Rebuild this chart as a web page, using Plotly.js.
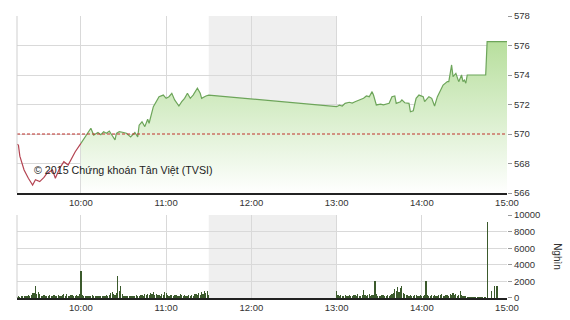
<!DOCTYPE html>
<html>
<head>
<meta charset="utf-8">
<script src="https://cdn.plot.ly/plotly-3.0.1.min.js"></script>
<style>html,body{margin:0;padding:0;background:#fff;}#chart{width:570px;height:320px;}</style>
</head>
<body>
<div id="chart"></div>
<script>
var DAY = '2015-01-01 ';
var refLevel = 570;

// Opening segment (below reference, red)
var redTimes = ['09:15','09:16','09:17','09:20','09:23','09:26','09:28','09:31','09:34','09:36','09:40','09:42','09:45','09:48','09:51','09:53','09:56','10:00'];
var redValues = [569.3,569.25,568.5,567.56,567.0,566.54,566.9,566.77,567.06,567.33,567.56,567.0,567.67,568.12,567.9,568.24,568.8,569.37];

// Rest of session (green)
var greenTimes = ['10:00','10:04','10:06','10:07','10:09','10:12','10:14','10:16','10:18','10:20','10:22','10:24','10:25','10:27','10:30','10:32','10:35','10:38','10:40','10:41','10:43','10:45','10:47','10:48','10:51','10:53','10:55','10:58','11:00','11:02','11:04','11:06','11:09','11:11','11:13','11:15','11:17','11:19','11:22','11:24','11:25','11:28','11:30',
  '13:00','13:02','13:04','13:06','13:09','13:11','13:13','13:16','13:19','13:21','13:23','13:25','13:26','13:28','13:31','13:33','13:37','13:39','13:41','13:42','13:45','13:46','13:48','13:51','13:52','13:54','13:56','13:58','14:01','14:02','14:05','14:07','14:09','14:11','14:13','14:15','14:18','14:19','14:20','14:21','14:22','14:24','14:26','14:28','14:29','14:30','14:31','14:32','14:45','14:46','15:00'];
var greenValues = [569.37,569.93,570.16,570.39,569.93,570.1,569.95,570.15,570.05,570.2,569.9,569.6,570.05,570.16,570.1,570.05,569.8,570.1,569.8,570.6,570.83,570.5,571.0,570.73,571.85,572.19,572.53,572.64,572.42,572.53,572.76,572.31,571.9,572.19,572.42,572.76,572.42,572.64,573.1,572.76,572.42,572.58,572.64,
  571.85,571.95,571.9,572.08,572.15,572.1,572.19,572.31,572.42,572.58,572.53,572.87,572.64,571.97,572.02,571.97,572.08,572.53,572.58,572.08,572.19,572.31,572.12,572.08,571.51,571.58,572.42,572.64,572.53,572.2,572.53,572.42,571.9,572.53,572.98,573.32,573.55,573.55,574.11,574.68,573.89,574.11,573.55,574.0,573.55,573.66,573.44,574.0,574.0,576.26,576.26];

// Volume (thousand shares), one bar per minute
var volMorningStart = '09:15';
var volMorning = [150,200,180,250,200,300,220,260,350,300,
  400,550,600,1400,500,700,450,300,250,350,
  200,300,250,400,300,200,350,300,250,400,
  300,250,350,500,300,450,250,300,400,350,
  300,250,400,300,500,3300,400,250,300,200,
  250,300,200,350,250,300,200,250,300,250,
  200,300,250,400,300,350,600,700,500,400,
  600,2600,800,1500,500,300,250,200,300,250,
  200,250,300,200,350,300,250,400,350,300,
  450,400,500,350,600,450,700,400,500,350,
  400,300,500,350,700,600,400,300,350,400,
  300,400,350,250,300,450,350,300,400,250,
  300,350,250,400,300,450,500,350,600,400,
  700,500,800,600,900,400];
var volAfternoonStart = '13:00';
var volAfternoon = [900,400,300,350,250,300,400,300,250,350,
  300,250,400,350,300,450,300,250,350,1000,
  400,300,350,500,300,400,350,2000,450,300,
  250,300,350,400,300,250,350,300,400,500,
  600,1100,900,1300,700,1200,1400,600,500,400,
  350,300,400,250,300,350,400,300,250,350,
  300,250,400,2000,350,300,250,400,300,350,
  300,250,350,400,500,300,250,350,400,300,
  450,350,600,400,500,300,350,900,400,300,
  250,200,150,100,120,150,100,120,100,150,
  100,120,150,100,120,80];
var volCloseTimes = ['14:46','14:49','14:51','14:53'];
var volClose = [9200,900,1400,1400];

var priceTicks = [566,568,570,572,574,576,578];
var volTicks = [0,2000,4000,6000,8000,10000];
var hourTicks = ['10:00','11:00','12:00','13:00','14:00','15:00'];
var watermark = '© 2015 Chứng khoán Tân Việt (TVSI)';
var volUnit = 'Nghìn';

function ts(t){ return DAY + t; }
function minuteSeries(start, n){
  var p = start.split(':'); var m0 = (+p[0])*60 + (+p[1]); var out = [];
  for (var i=0;i<n;i++){ var m=m0+i; var h=Math.floor(m/60), mm=m%60;
    out.push(DAY + (h<10?'0':'')+h+':'+(mm<10?'0':'')+mm); }
  return out;
}

var volX = minuteSeries(volMorningStart, volMorning.length)
  .concat(minuteSeries(volAfternoonStart, volAfternoon.length))
  .concat(volCloseTimes.map(ts));
var volY = volMorning.concat(volAfternoon).concat(volClose);

var font = "Arial, 'Liberation Sans', sans-serif";

var traces = [
  {x: greenTimes.map(ts), y: greenValues, type:'scatter', mode:'lines', xaxis:'x', yaxis:'y',
   line:{color:'#6da55a', width:1.2}, fill:'tozeroy',
   fillgradient:{type:'vertical', start:566, stop:577.5,
     colorscale:[[0,'rgba(255,255,255,1)'],[0.5,'#d6edc8'],[1,'#b0db92']]},
   hoverinfo:'skip'},
  {x: redTimes.map(ts), y: redValues, type:'scatter', mode:'lines', xaxis:'x', yaxis:'y',
   line:{color:'#b44452', width:1.2}, hoverinfo:'skip'},
  {x: volX, y: volY, type:'bar', xaxis:'x2', yaxis:'y2', width:50000,
   marker:{color:'#3b5a2c', line:{width:0}}, hoverinfo:'skip'}
];

var xCommon = {type:'date', range:[ts('09:15'), ts('15:00')],
  tickvals: hourTicks.map(ts), ticktext: hourTicks,
  showgrid:true, gridcolor:'#d9d9d9', gridwidth:1,
  showline:true, linecolor:'#222', linewidth:1.5, ticks:'', zeroline:false,
  tickfont:{family:font, size:9.5, color:'#333'}, fixedrange:true};

var layout = {
  width:570, height:320,
  margin:{l:17, r:63, t:16, b:22},
  paper_bgcolor:'#fff', plot_bgcolor:'#fff',
  showlegend:false,
  bargap:0,
  xaxis: Object.assign({}, xCommon, {anchor:'y', domain:[0,1]}),
  xaxis2: Object.assign({}, xCommon, {anchor:'y2', domain:[0,1]}),
  yaxis: {domain:[0.3723,1], range:[566,578], side:'right', tickvals:priceTicks,
    ticktext: priceTicks.map(String),
    showgrid:true, gridcolor:'#d9d9d9', zeroline:false, ticks:'outside', ticklen:4, tickcolor:'#999',
    tickfont:{family:font, size:9.5, color:'#333'}, showline:false, fixedrange:true},
  yaxis2: {domain:[0,0.2943], range:[0,10000], side:'right', tickvals:volTicks,
    ticktext: volTicks.map(String),
    showgrid:true, gridcolor:'#d9d9d9', zeroline:false, ticks:'outside', ticklen:4, tickcolor:'#999',
    tickfont:{family:font, size:9.5, color:'#333'}, showline:false, fixedrange:true},
  shapes:[
    {type:'rect', xref:'x', yref:'y domain', x0:ts('11:30'), x1:ts('13:00'), y0:0, y1:1,
     fillcolor:'#efefef', line:{width:0}, layer:'below'},
    {type:'rect', xref:'x2', yref:'y2 domain', x0:ts('11:30'), x1:ts('13:00'), y0:0, y1:1,
     fillcolor:'#efefef', line:{width:0}, layer:'below'},
    {type:'line', xref:'x', yref:'y', x0:ts('09:15'), x1:ts('15:00'), y0:refLevel, y1:refLevel,
     line:{color:'#c0302a', width:1, dash:'3px,2px'}},
    {type:'line', xref:'paper', yref:'y domain', x0:0, x1:0, y0:0, y1:1, line:{color:'#cfcfcf', width:1}},
    {type:'line', xref:'paper', yref:'y2 domain', x0:0, x1:0, y0:0, y1:1, line:{color:'#cfcfcf', width:1}}
  ],
  annotations:[
    {text: watermark, xref:'paper', yref:'paper', x:0.031, y:0.454, xanchor:'left', yanchor:'middle',
     showarrow:false, font:{family:font, size:10.7, color:'#222'}},
    {text: volUnit, xref:'paper', yref:'paper', x:1.104, y:0.145, xanchor:'center', yanchor:'middle',
     textangle:90, showarrow:false, font:{family:font, size:10, color:'#333'}}
  ]
};

Plotly.newPlot('chart', traces, layout, {staticPlot:true, displayModeBar:false});
</script>
</body>
</html>
